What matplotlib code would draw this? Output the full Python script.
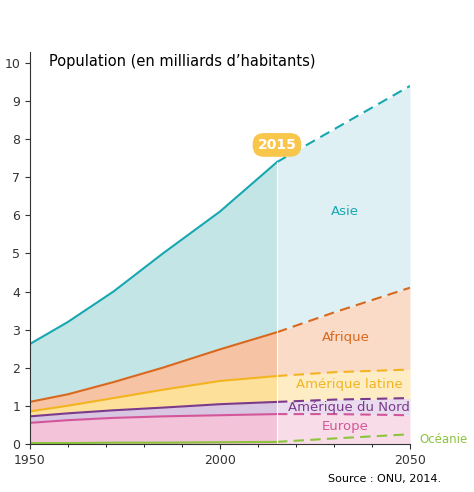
import numpy as np
import matplotlib.pyplot as plt

years_past = [1950, 1960, 1972, 1985, 2000, 2015]
years_future = [2015, 2030, 2050]

# cumulative (stacked) tops, billions
oceania_p = [0.02, 0.02, 0.03, 0.03, 0.04, 0.05]
europe_p = [0.55, 0.62, 0.68, 0.72, 0.75, 0.78]
namerica_p = [0.72, 0.80, 0.88, 0.95, 1.04, 1.10]
latam_p = [0.85, 1.00, 1.20, 1.42, 1.65, 1.78]
africa_p = [1.10, 1.30, 1.62, 2.00, 2.48, 2.93]
asia_p = [2.62, 3.20, 4.00, 5.00, 6.10, 7.40]

oceania_f = [0.05, 0.14, 0.25]
europe_f = [0.78, 0.78, 0.75]
namerica_f = [1.10, 1.16, 1.20]
latam_f = [1.78, 1.88, 1.95]
africa_f = [2.93, 3.45, 4.10]
asia_f = [7.40, 8.26, 9.40]

layers = [
    ("Europe", europe_p, europe_f, "#f3c3d9", "#f8dde9", "#d4569a"),
    ("Amérique du Nord", namerica_p, namerica_f, "#d9c6e2", "#e8dcee", "#7b3a8c"),
    ("Amérique latine", latam_p, latam_f, "#fde19b", "#feedc4", "#f3b420"),
    ("Afrique", africa_p, africa_f, "#f6c3a5", "#fadbc8", "#d9681c"),
    ("Asie", asia_p, asia_f, "#c4e5e5", "#dff0f4", "#17a7b0"),
]

fig, ax = plt.subplots(figsize=(4.74, 4.92), dpi=100)
fig.subplots_adjust(left=0.063, right=0.865, bottom=0.098, top=0.895)

prev_p = [0] * len(years_past)
prev_f = [0] * len(years_future)
for name, p, f, cp, cf, lc in layers:
    ax.fill_between(years_past, prev_p, p, color=cp, lw=0)
    ax.fill_between(years_future, prev_f, f, color=cf, lw=0)
    ax.plot(years_past, p, color=lc, lw=1.5)
    ax.plot(years_future, f, color=lc, lw=1.5, ls=(0, (5, 3)))
    prev_p, prev_f = p, f

ax.plot(years_past, oceania_p, color="#8cc43c", lw=1.5)
ax.plot(years_future, oceania_f, color="#8cc43c", lw=1.5, ls=(0, (5, 3)))
ax.axvline(2015, ymax=7.4 / 10.3, color="white", lw=0.8)

labels = [("Asie", 2033, 6.1, "#17a7b0"), ("Afrique", 2033, 2.8, "#d9681c"),
          ("Amérique latine", 2034, 1.55, "#f3b420"), ("Amérique du Nord", 2034, 0.95, "#7b3a8c"),
          ("Europe", 2033, 0.45, "#d4569a")]
for t, x, y, c in labels:
    ax.text(x, y, t, color=c, fontsize=9.5, ha="center", va="center")
ax.text(2052.5, 0.12, "Océanie", color="#8cc43c", fontsize=8.5, ha="left", va="center", clip_on=False)

ax.text(2015, 7.85, "2015", color="white", fontsize=10, fontweight="bold", ha="center", va="center",
        bbox=dict(boxstyle="round,pad=0.35,rounding_size=0.8", fc="#f9c64c", ec="none"))

ax.text(1955, 10.05, "Population (en milliards d\u2019habitants)", fontsize=10.5, va="center")

ax.set_xlim(1950, 2050)
ax.set_ylim(0, 10.3)
ax.set_yticks(range(0, 11))
ax.set_xticks([1950, 2000, 2050])
ax.set_xticks(range(1950, 2051, 10), minor=True)
ax.tick_params(labelsize=9, colors="#333333")
for s in ["top", "right"]:
    ax.spines[s].set_visible(False)
ax.spines["left"].set_color("#333333")
ax.spines["bottom"].set_color("#333333")
fig.text(0.93, 0.02, "Source : ONU, 2014.", fontsize=8, ha="right")

fig.savefig("out.png", dpi=100)
